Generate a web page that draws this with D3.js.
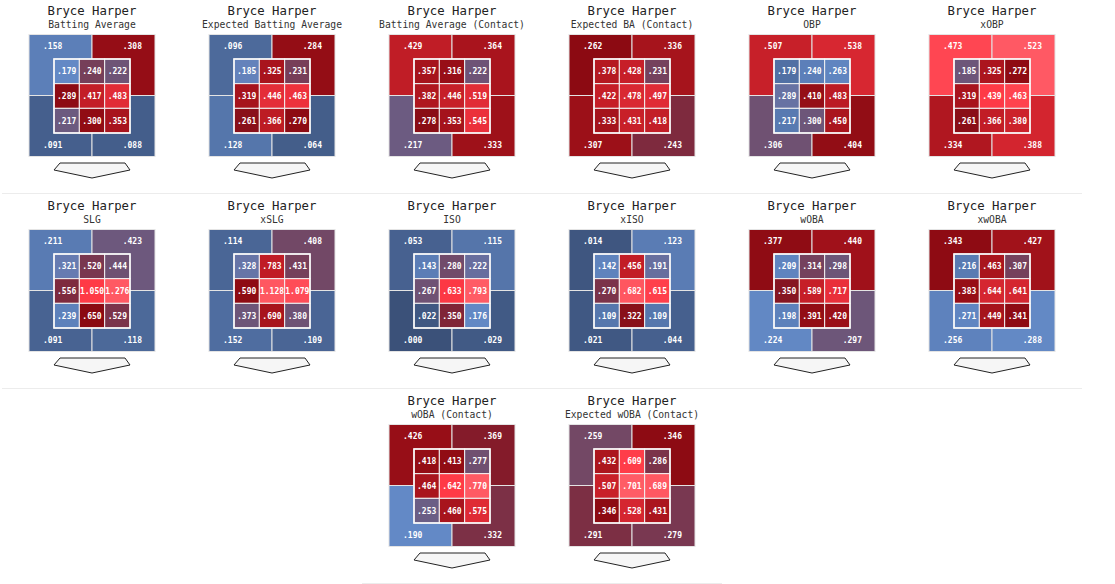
<!DOCTYPE html>
<html>
<head>
<meta charset="utf-8">
<script src="https://cdn.jsdelivr.net/npm/d3@7"></script>
<style>
  html, body { margin: 0; padding: 0; background: #fff; }
  svg { display: block; }
</style>
</head>
<body>
<svg id="chart" width="1115" height="584"></svg>
<script>
// ---------------- DATA ----------------
const player = "Bryce Harper";

const metrics = [
  "Batting Average", "Expected Batting Average", "Batting Average (Contact)",
  "Expected BA (Contact)", "OBP", "xOBP",
  "SLG", "xSLG", "ISO", "xISO", "wOBA", "xwOBA",
  "wOBA (Contact)", "Expected wOBA (Contact)"
];

// grid position of each panel: [row, column]
const panelSlots = [
  [0,0],[0,1],[0,2],[0,3],[0,4],[0,5],
  [1,0],[1,1],[1,2],[1,3],[1,4],[1,5],
  [2,2],[2,3]
];

// inner 3x3 zone values, row by row (top-left to bottom-right)
const innerValues = [
  [.179, .240, .222, .289, .417, .483, .217, .300, .353],
  [.185, .325, .231, .319, .446, .463, .261, .366, .270],
  [.357, .316, .222, .382, .446, .519, .278, .353, .545],
  [.378, .428, .231, .422, .478, .497, .333, .431, .418],
  [.179, .240, .263, .289, .410, .483, .217, .300, .450],
  [.185, .325, .272, .319, .439, .463, .261, .366, .380],
  [.321, .520, .444, .556, 1.050, 1.276, .239, .650, .529],
  [.328, .783, .431, .590, 1.128, 1.079, .373, .690, .380],
  [.143, .280, .222, .267, .633, .793, .022, .350, .176],
  [.142, .456, .191, .270, .682, .615, .109, .322, .109],
  [.209, .314, .298, .350, .589, .717, .198, .391, .420],
  [.216, .463, .307, .383, .644, .641, .271, .449, .341],
  [.418, .413, .277, .464, .642, .770, .253, .460, .575],
  [.432, .609, .286, .507, .701, .689, .346, .528, .431]
];

// outer zone values: [top-left, top-right, bottom-left, bottom-right]
const outerValues = [
  [.158, .308, .091, .088],
  [.096, .284, .128, .064],
  [.429, .364, .217, .333],
  [.262, .336, .307, .243],
  [.507, .538, .306, .404],
  [.473, .523, .334, .388],
  [.211, .423, .091, .118],
  [.114, .408, .152, .109],
  [.053, .115, .000, .029],
  [.014, .123, .021, .044],
  [.377, .440, .224, .297],
  [.343, .427, .256, .288],
  [.426, .369, .190, .332],
  [.259, .346, .291, .279]
];

// per-metric colour scale domain (cold -> hot anchors)
const colorDomains = [
  [.06, .18, .22, .285, .42, .55, .65],
  [.03, .18, .215, .265, .38, .50, .60],
  [.10, .19, .22, .28, .44, .60, .70],
  [.10, .18, .22, .26, .42, .58, .68],
  [.05, .28, .30, .39, .50, .62, .72],
  [.00, .15, .185, .265, .37, .44, .53],
  [.00, .28, .43, .65, .85, 1.05, 1.30],
  [.00, .30, .37, .58, .80, 1.00, 1.15],
  [.00, .18, .26, .40, .52, .64, .80],
  [.00, .16, .22, .33, .46, .60, .70],
  [.00, .23, .297, .36, .58, .80, .95],
  [.00, .29, .298, .33, .58, .80, .95],
  [.00, .19, .265, .40, .52, .64, .78],
  [.00, .15, .24, .34, .50, .60, .70]
];

const colorRange = ["#3b5179", "#6389c6", "#6d5679", "#8b0a12", "#c41e27", "#ff3a46", "#ff5c66"];

// ---------------- DRAW ----------------
const svg = d3.select("#chart");
const panelW = 180, panelH = 195;
const colX = d3.scaleLinear().domain([0, 1]).range([2, 2 + panelW]);
const rowY = d3.scaleLinear().domain([0, 1]).range([0, panelH]);

const fmt = v => d3.format(".3f")(v).replace(/^0/, "");
const mono = "'DejaVu Sans Mono', 'Liberation Mono', monospace";

// outer box and inner grid scales (panel-local)
const ox = d3.scaleBand().domain([0, 1]).range([27, 153]);
const oy = d3.scaleBand().domain([0, 1]).range([34.5, 156.5]);
const ix = d3.scaleBand().domain([0, 1, 2]).range([52, 128]);
const iy = d3.scaleBand().domain([0, 1, 2]).range([59, 133]);

metrics.forEach((m, p) => {
  const [r, c] = panelSlots[p];
  const color = d3.scaleLinear().domain(colorDomains[p]).range(colorRange).clamp(true);
  const g = svg.append("g").attr("transform", `translate(${colX(c)},${rowY(r)})`);

  // separator under each panel
  g.append("line")
    .attr("x1", 0).attr("x2", panelW).attr("y1", 193.5).attr("y2", 193.5)
    .attr("stroke", "#ececec").attr("stroke-width", 1);

  g.append("text")
    .attr("x", 90).attr("y", 14.5)
    .attr("text-anchor", "middle")
    .attr("font-family", mono).attr("font-size", 12.3)
    .attr("fill", "#222")
    .text(player);

  g.append("text")
    .attr("x", 90).attr("y", 28)
    .attr("text-anchor", "middle")
    .attr("font-family", mono).attr("font-size", 9.7)
    .attr("fill", "#333")
    .text(m);

  // outer quadrants
  const outer = outerValues[p].map((v, k) => ({ v, col: k % 2, row: Math.floor(k / 2) }));
  g.selectAll("rect.outer").data(outer).enter().append("rect")
    .attr("class", "outer")
    .attr("x", d => ox(d.col)).attr("y", d => oy(d.row))
    .attr("width", ox.bandwidth()).attr("height", oy.bandwidth())
    .attr("fill", d => color(d.v))
    .attr("stroke", "#e4e4e4").attr("stroke-width", 1);

  g.selectAll("text.outer").data(outer).enter().append("text")
    .attr("class", "outer")
    .attr("x", d => d.col === 0 ? ox(0) + 14 : ox(1) + ox.bandwidth() - 13)
    .attr("y", d => d.row === 0 ? oy(0) + 14.5 : oy(1) + oy.bandwidth() - 8.5)
    .attr("text-anchor", d => d.col === 0 ? "start" : "end")
    .attr("font-family", mono).attr("font-size", 8).attr("font-weight", "bold")
    .attr("fill", "#fff")
    .text(d => fmt(d.v));

  // inner 3x3
  const inner = innerValues[p].map((v, k) => ({ v, col: k % 3, row: Math.floor(k / 3) }));
  g.selectAll("rect.inner").data(inner).enter().append("rect")
    .attr("class", "inner")
    .attr("x", d => ix(d.col)).attr("y", d => iy(d.row))
    .attr("width", ix.bandwidth()).attr("height", iy.bandwidth())
    .attr("fill", d => color(d.v))
    .attr("stroke", "#f4f4f4").attr("stroke-width", 1);

  g.append("rect")
    .attr("x", ix.range()[0]).attr("y", iy.range()[0])
    .attr("width", ix.range()[1] - ix.range()[0])
    .attr("height", iy.range()[1] - iy.range()[0])
    .attr("fill", "none").attr("stroke", "#fafafa").attr("stroke-width", 1.6);

  g.selectAll("text.inner").data(inner).enter().append("text")
    .attr("class", "inner")
    .attr("x", d => ix(d.col) + ix.bandwidth() / 2)
    .attr("y", d => iy(d.row) + iy.bandwidth() / 2 + 3)
    .attr("text-anchor", "middle")
    .attr("font-family", mono).attr("font-size", 8).attr("font-weight", "bold")
    .attr("fill", "#fff")
    .text(d => fmt(d.v));

  // home plate
  const l = ix.range()[0], rr = ix.range()[1], mid = (l + rr) / 2;
  const plate = [[l + 6, 163], [rr - 5, 163], [rr, 170], [mid, 178], [l, 170]];
  g.append("path")
    .attr("d", d3.line()(plate) + "Z")
    .attr("fill", "#f6f6f6").attr("stroke", "#222").attr("stroke-width", 1);
});
</script>
</body>
</html>
